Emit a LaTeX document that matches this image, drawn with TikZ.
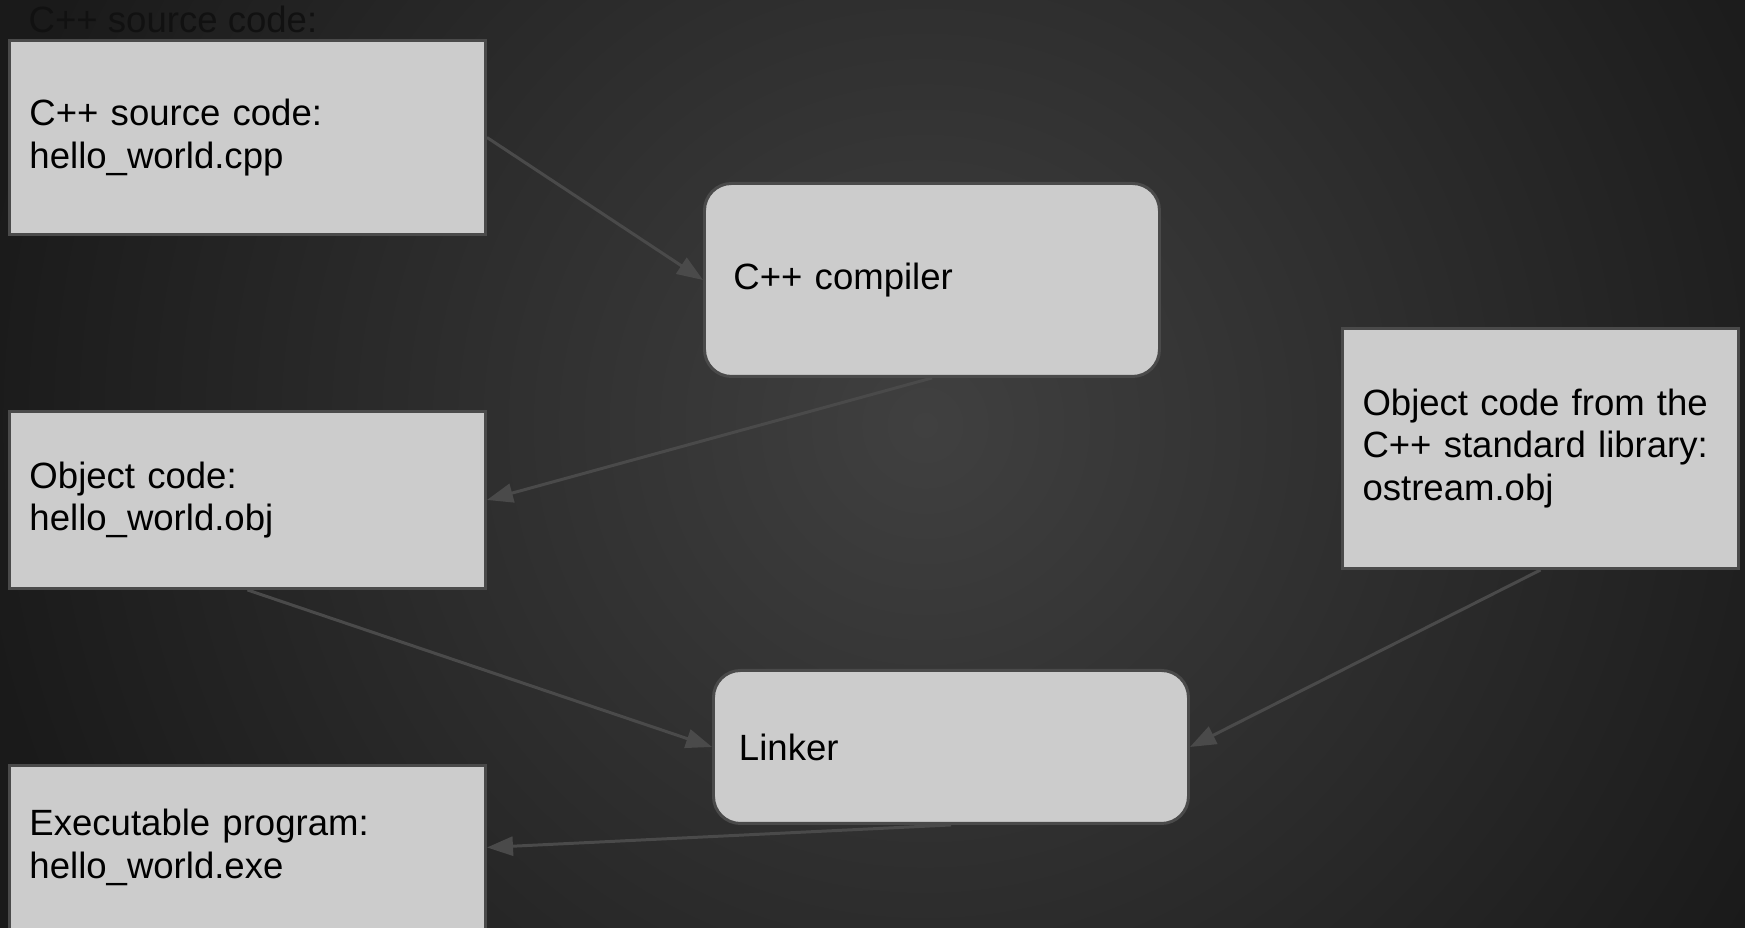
\documentclass[tikz,border=0pt]{standalone}
\usepackage{fontspec}
\setmainfont{Liberation Sans}
\usetikzlibrary{positioning, arrows.meta}

\definecolor{bgin}{HTML}{404040}
\definecolor{bgout}{HTML}{1A1A1A}
\definecolor{boxfill}{HTML}{CCCCCC}
\definecolor{boxline}{HTML}{4A4A4A}
\definecolor{ghost}{HTML}{111111}

\begin{document}
\begin{tikzpicture}[
        node distance=1.74cm,
        label font/.style={font=\fontsize{10.4}{12}\selectfont},
        filebox/.style={draw=boxline, fill=boxfill, line width=0.85pt, rectangle, inner xsep=0pt, align=left, label font, minimum width=4.76cm, text width=4.36cm},
        toolbox/.style={draw=boxline, fill=boxfill, line width=0.85pt, rounded corners=0.27cm, inner xsep=0pt, align=left, label font},
        arrow/.style={-{Triangle[length=0.26cm, width=0.19cm]}, draw=boxline, line width=0.85pt}
    ]

    % Background
    \useasboundingbox (0,0) rectangle (17.45,-9.28);
    \begin{scope}
        \clip (0,0) rectangle (17.45,-9.28);
        \fill[bgout] (0,0) rectangle (17.45,-9.28);
        \shade[inner color=bgin, outer color=bgout] (9.25,-4.25) circle (9.6);
    \end{scope}

    % Leftover title
    \node[anchor=base west, text=ghost, label font, inner sep=0pt] (Ghost) at (0.28,-0.33) {C++ source code:};

    % Files
    \node[filebox, minimum height=1.94cm, anchor=north west] (Source) at (0.08,-0.39) {C++ source code:\\hello\_world.cpp};
    \node[filebox, minimum height=1.77cm, below=of Source] (Object) {Object code:\\hello\_world.obj};
    \node[filebox, minimum height=1.64cm, below=of Object] (Exe) {Executable program:\\hello\_world.exe};
    \node[filebox, minimum width=3.96cm, text width=3.56cm, minimum height=2.40cm, anchor=north west] (Library) at (13.41,-3.27) {Object code from the\\C++ standard library:\\ostream.obj};

    % Tools
    \node[toolbox, minimum width=4.55cm, text width=3.97cm, minimum height=1.93cm, anchor=north west] (Compiler) at (7.03,-1.82) {C++ compiler};
    \node[toolbox, minimum width=4.75cm, text width=4.24cm, minimum height=1.53cm, anchor=north west] (Linker) at (7.12,-6.69) {Linker};

    % Arrows
    \draw[arrow] (Source.east) -- (Compiler.west);
    \draw[arrow] (Compiler.south) -- (Object.east);
    \draw[arrow] (Object.south) -- (Linker.west);
    \draw[arrow] (Library.south) -- (Linker.east);
    \draw[arrow] (Linker.south) -- (Exe.east);

\end{tikzpicture}
\end{document}
